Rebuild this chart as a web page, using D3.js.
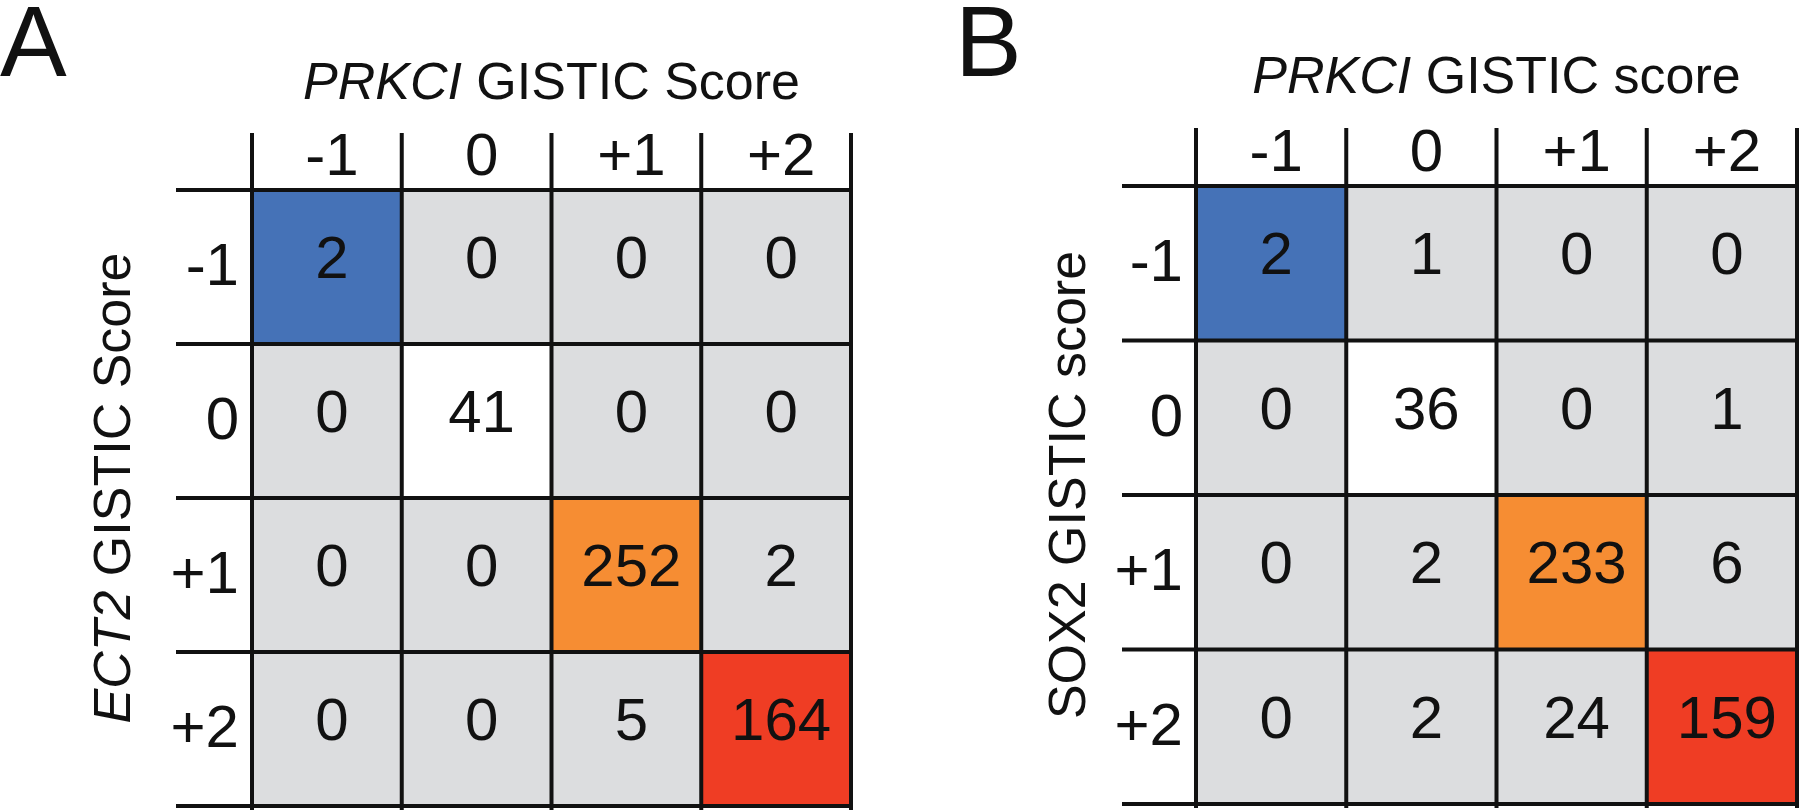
<!DOCTYPE html>
<html>
<head>
<meta charset="utf-8">
<script src="https://cdn.jsdelivr.net/npm/d3@7"></script>
<style>
  html, body { margin: 0; padding: 0; background: #fff; }
  svg { display: block; font-family: "Liberation Sans", Arial, Helvetica, sans-serif; }
</style>
</head>
<body>
<svg id="chart" width="1800" height="811"></svg>
<script>
// ---- data ----
const colLabels = ["-1", "0", "+1", "+2"];   // PRKCI GISTIC score
const rowLabels = ["-1", "0", "+1", "+2"];   // ECT2 / SOX2 GISTIC score
const countsA = [
  [2, 0, 0, 0],
  [0, 41, 0, 0],
  [0, 0, 252, 2],
  [0, 0, 5, 164]
];
const countsB = [
  [2, 1, 0, 0],
  [0, 36, 0, 1],
  [0, 2, 233, 6],
  [0, 2, 24, 159]
];
const diagColors = ["#4572B7", "#FFFFFF", "#F68D33", "#EF3D24"];
const offColor = "#DCDDDF";

// ---- layout ----
const panels = [
  { letter: "A", letterX: 0, counts: countsA,
    x0: 252, x1: 851, y0: 190, y1: 806, vTop: 133, hLeft: 176,
    titleItalic: "PRKCI", titleRest: " GISTIC Score", titleY: 99,
    yItalic: "ECT2", yRest: " GISTIC Score", yLabelX: 130, yItalicOn: true,
    headerY: 175 },
  { letter: "B", letterX: 955, counts: countsB,
    x0: 1196, x1: 1797, y0: 186, y1: 804, vTop: 128, hLeft: 1122,
    titleItalic: "PRKCI", titleRest: " GISTIC score", titleY: 93,
    yItalic: "SOX2", yRest: " GISTIC score", yLabelX: 1085, yItalicOn: false,
    headerY: 171 }
];

const svg = d3.select("#chart");
const lineW = 4;

panels.forEach(p => {
  const g = svg.append("g");
  const x = d3.scaleBand().domain(colLabels).range([p.x0, p.x1]).padding(0);
  const y = d3.scaleBand().domain(rowLabels).range([p.y0, p.y1]).padding(0);

  const cells = [];
  rowLabels.forEach((r, i) => colLabels.forEach((c, j) => {
    cells.push({ r, c, i, j, v: p.counts[i][j] });
  }));

  // cell fills
  g.selectAll("rect.cell").data(cells).join("rect")
    .attr("class", "cell")
    .attr("x", d => x(d.c))
    .attr("y", d => y(d.r))
    .attr("width", x.bandwidth())
    .attr("height", y.bandwidth())
    .attr("fill", d => d.i === d.j ? diagColors[d.i] : offColor);

  // cell numbers
  g.selectAll("text.val").data(cells).join("text")
    .attr("class", "val")
    .attr("x", d => x(d.c) + x.bandwidth() / 2 + 5)
    .attr("y", d => y(d.r) + y.bandwidth() / 2 + 11)
    .attr("text-anchor", "middle")
    .attr("font-size", 60)
    .attr("fill", "#111")
    .text(d => d.v);

  // grid lines
  const xEdges = colLabels.map(c => x(c)).concat([p.x1]);
  const yEdges = rowLabels.map(r => y(r)).concat([p.y1]);
  g.selectAll("line.v").data(xEdges).join("line")
    .attr("x1", d => d).attr("x2", d => d)
    .attr("y1", p.vTop).attr("y2", p.y1 + 4)
    .attr("stroke", "#111").attr("stroke-width", lineW);
  g.selectAll("line.h").data(yEdges).join("line")
    .attr("x1", p.hLeft).attr("x2", p.x1 + lineW / 2)
    .attr("y1", d => d).attr("y2", d => d)
    .attr("stroke", "#111").attr("stroke-width", lineW);

  // column headers
  g.selectAll("text.colh").data(colLabels).join("text")
    .attr("x", d => x(d) + x.bandwidth() / 2 + 5)
    .attr("y", p.headerY)
    .attr("text-anchor", "middle")
    .attr("font-size", 60)
    .attr("fill", "#111")
    .text(d => d);

  // row headers
  g.selectAll("text.rowh").data(rowLabels).join("text")
    .attr("x", p.x0 - 13)
    .attr("y", d => y(d) + y.bandwidth() / 2 + 18)
    .attr("text-anchor", "end")
    .attr("font-size", 60)
    .attr("fill", "#111")
    .text(d => d);

  // title
  const t = g.append("text")
    .attr("x", (p.x0 + p.x1) / 2)
    .attr("y", p.titleY)
    .attr("text-anchor", "middle")
    .attr("font-size", 52)
    .attr("fill", "#111");
  t.append("tspan").attr("font-style", "italic").text(p.titleItalic);
  t.append("tspan").text(p.titleRest);

  // y label
  const yl = g.append("text")
    .attr("transform", `translate(${p.yLabelX},${(p.y0 + p.y1) / 2 - 10}) rotate(-90)`)
    .attr("text-anchor", "middle")
    .attr("font-size", 52)
    .attr("fill", "#111");
  yl.append("tspan").attr("font-style", p.yItalicOn ? "italic" : "normal").text(p.yItalic);
  yl.append("tspan").text(p.yRest);

  // panel letter
  g.append("text")
    .attr("x", p.letterX)
    .attr("y", 76)
    .attr("font-size", 100)
    .attr("fill", "#111")
    .text(p.letter);
});
</script>
</body>
</html>
